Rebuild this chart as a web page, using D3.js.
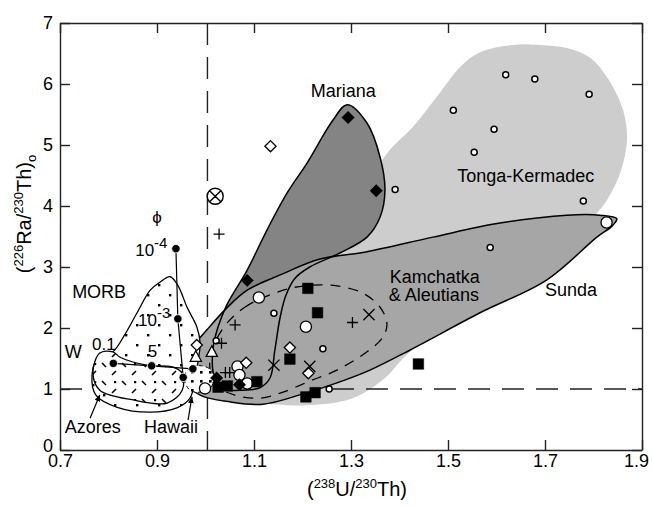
<!DOCTYPE html>
<html>
<head>
<meta charset="utf-8">
<script src="https://cdn.jsdelivr.net/npm/d3@7"></script>
<style>
body { margin: 0; background: #fff; }
svg text { font-family: "Liberation Sans", Arial, Helvetica, sans-serif; fill: #000; }
.axis path, .axis line { stroke: #222; stroke-width: 1.4; }
.axis text { font-size: 18px; }
</style>
</head>
<body>
<div id="chart"></div>
<script>
var xTickValues = [0.7, 0.9, 1.1, 1.3, 1.5, 1.7, 1.9];
var yTickValues = [0, 1, 2, 3, 4, 5, 6, 7];
var equilineU = 1.004;
var equilineRa = 1;

// region outlines, [(238U/230Th), (226Ra/230Th)]
var tongaOutline = [[1.154,0.74],[1.226,0.74],[1.277,0.79],[1.323,0.92],[1.370,1.18],[1.422,1.61],
  [1.607,2.62],[1.772,3.52],[1.809,3.90],[1.828,4.10],[1.855,4.54],[1.869,5.08],[1.861,5.57],
  [1.828,6.11],[1.793,6.43],[1.745,6.59],[1.690,6.64],[1.634,6.64],[1.566,6.52],[1.525,6.28],
  [1.477,5.79],[1.428,5.30],[1.380,4.92],[1.319,4.26],[1.195,3.28],[1.112,2.46],[1.061,1.48],[1.081,0.87]];
var marianaOutline = [[1.292,5.66],[1.333,5.36],[1.360,4.80],[1.370,4.26],[1.360,3.82],[1.333,3.49],
  [1.277,3.23],[1.215,3.00],[1.185,2.82],[1.166,2.54],[1.154,2.18],[1.143,1.64],[1.133,1.18],
  [1.112,1.02],[1.071,0.98],[1.034,1.00],[1.018,1.20],[1.015,1.64],[1.026,2.02],[1.044,2.38],
  [1.086,2.95],[1.127,3.61],[1.168,4.21],[1.209,4.70],[1.263,5.41]];
var kamchatkaOutline = [[1.848,3.79],[1.813,3.85],[1.745,3.85],[1.607,3.72],[1.469,3.49],[1.333,3.25],
  [1.236,3.13],[1.154,2.87],[1.086,2.62],[1.044,2.33],[1.003,1.97],[0.974,1.69],[0.958,1.39],
  [0.960,1.11],[0.989,0.90],[1.050,0.79],[1.119,0.75],[1.201,0.92],[1.271,1.10],[1.339,1.31],
  [1.422,1.64],[1.566,2.25],[1.704,2.79],[1.807,3.49],[1.838,3.67]];
var aleutiansDashed = [[1.034,1.97],[1.081,2.34],[1.160,2.62],[1.215,2.70],[1.271,2.69],[1.325,2.57],
  [1.360,2.34],[1.374,2.08],[1.366,1.85],[1.333,1.61],[1.271,1.31],[1.215,1.13],[1.160,0.95],
  [1.112,0.85],[1.061,0.90],[1.020,1.07],[1.009,1.48]];
var morbOutline = [[0.927,2.84],[0.906,2.75],[0.886,2.62],[0.859,2.25],[0.832,1.87],[0.809,1.61],
  [0.778,1.51],[0.766,1.23],[0.774,0.90],[0.818,0.70],[0.886,0.62],[0.941,0.69],[0.968,0.85],
  [0.978,1.15],[0.985,1.48],[0.989,1.75],[0.982,2.02],[0.962,2.34],[0.943,2.70]];
var azoresOutline = [[0.809,1.61],[0.782,1.59],[0.768,1.26],[0.782,0.98],[0.851,0.82],[0.921,0.77],
  [0.952,0.98],[0.952,1.26],[0.933,1.36],[0.879,1.39],[0.824,1.52]];
var hawaiiOutline = [[0.958,1.25],[0.972,1.36],[0.992,1.38],[1.010,1.32],[1.018,1.18],[1.010,1.02],
  [0.990,0.95],[0.970,0.97],[0.958,1.10]];

// melting model curves
var curveW = [[0.810,1.42],[0.889,1.38],[0.974,1.33]];
var curvePhi = [[0.939,3.30],[0.943,2.15],[0.954,1.19]];

// samples
var smallCircles = [[1.619,6.15],[1.679,6.08],[1.791,5.83],[1.511,5.57],[1.595,5.26],[1.554,4.88],
  [1.391,4.27],[1.779,4.08],[1.587,3.32],[1.141,2.24],[1.242,1.66],[1.255,1.00],[1.022,1.79]];
var bigCircles = [[1.827,3.73],[1.110,2.50],[1.207,2.02],[1.066,1.37],[1.070,1.23],[1.086,1.09],[0.999,1.01]];
var openDiamonds = [[1.134,4.98],[0.982,1.72],[1.084,1.43],[1.174,1.68],[1.212,1.26]];
var filledDiamonds = [[1.294,5.45],[1.352,4.25],[1.086,2.78],[1.023,1.18],[1.070,1.07]];
var filledSquares = [[1.211,2.65],[1.231,2.25],[1.174,1.49],[1.207,0.87],[1.226,0.94],[1.439,1.41],
  [1.106,1.12],[1.026,1.03],[1.045,1.05]];
var crosses = [[1.337,2.22],[1.215,1.37],[1.141,1.39]];
var pluses = [[1.028,3.54],[1.303,2.09],[1.061,2.05],[1.033,1.75],[1.041,1.27],[1.050,1.27]];
var circledX = [[1.020,4.16]];
var openTriangles = [[0.980,1.52],[1.013,1.60]];

var labels = [
  {t:"Mariana", x:1.284, y:5.79, a:"middle"},
  {t:"Tonga-Kermadec", x:1.519, y:4.39, a:"start"},
  {t:"Kamchatka", x:1.380, y:2.74, a:"start"},
  {t:"& Aleutians", x:1.378, y:2.44, a:"start"},
  {t:"Sunda", x:1.700, y:2.52, a:"start"},
  {t:"MORB", x:0.725, y:2.49, a:"start"},
  {t:"W", x:0.710, y:1.51, a:"start"},
  {t:"0.1", x:0.766, y:1.64, a:"start", s:17},
  {t:"5", x:0.881, y:1.52, a:"start", s:17},
  {t:"Azores", x:0.710, y:0.28, a:"start"},
  {t:"Hawaii", x:0.873, y:0.28, a:"start"},
  {t:"\u03d5", x:0.900, y:3.72, a:"middle", s:17}
];
var powerLabels = [{base:"10", exp:"-4", x:0.855, y:3.18}, {base:"10", exp:"-3", x:0.861, y:2.03}];
var arrows = [[[0.762,0.52],[0.782,0.90]], [[0.964,0.49],[0.972,0.87]]];

var width = 653, height = 506;
var x = d3.scaleLinear().domain([0.7, 1.9]).range([60, 642]);
var y = d3.scaleLinear().domain([0, 7]).range([450, 23]);

var svg = d3.select("#chart").append("svg")
  .attr("width", width)
  .attr("height", height);

var defs = svg.append("defs");
var pm = defs.append("pattern").attr("id", "morbDots").attr("patternUnits", "userSpaceOnUse")
  .attr("width", 22).attr("height", 20);
pm.append("rect").attr("width", 22).attr("height", 20).attr("fill", "#fff");
pm.append("rect").attr("x", 4).attr("y", 4).attr("width", 2.4).attr("height", 2.4).attr("fill", "#000");
pm.append("rect").attr("x", 15).attr("y", 14).attr("width", 2.4).attr("height", 2.4).attr("fill", "#000");

var pa = defs.append("pattern").attr("id", "azoresDash").attr("patternUnits", "userSpaceOnUse")
  .attr("width", 20).attr("height", 18);
pa.append("rect").attr("width", 20).attr("height", 18).attr("fill", "#fff");
pa.append("path").attr("d", "M2,3L6,7M12,15L16,11").attr("stroke", "#000").attr("stroke-width", 1.6);
pa.append("rect").attr("x", 14).attr("y", 3).attr("width", 2.2).attr("height", 2.2).attr("fill", "#000");

var ph = defs.append("pattern").attr("id", "hawaiiDots").attr("patternUnits", "userSpaceOnUse")
  .attr("width", 9).attr("height", 9);
ph.append("rect").attr("width", 9).attr("height", 9).attr("fill", "#fff");
ph.append("rect").attr("x", 2).attr("y", 2).attr("width", 2.6).attr("height", 2.6).attr("fill", "#000");

defs.append("marker").attr("id", "arrowHead").attr("viewBox", "0 0 10 10")
  .attr("refX", 9).attr("refY", 5).attr("markerWidth", 7).attr("markerHeight", 7)
  .attr("markerUnits", "userSpaceOnUse").attr("orient", "auto")
  .append("path").attr("d", "M0,1L10,5L0,9Z").attr("fill", "#000");

var closedLine = d3.line().x(function (d) { return x(d[0]); }).y(function (d) { return y(d[1]); })
  .curve(d3.curveCatmullRomClosed.alpha(0.5));
var openLine = d3.line().x(function (d) { return x(d[0]); }).y(function (d) { return y(d[1]); });

// light gray Tonga field
svg.append("path").attr("d", closedLine(tongaOutline)).attr("fill", "#cdcdcd");

// equilines
svg.append("line").attr("x1", x(equilineU)).attr("x2", x(equilineU)).attr("y1", y(7)).attr("y2", y(0))
  .attr("stroke", "#222").attr("stroke-width", 1.4).attr("stroke-dasharray", "22,12");
svg.append("line").attr("x1", x(0.7)).attr("x2", x(1.9)).attr("y1", y(equilineRa)).attr("y2", y(equilineRa))
  .attr("stroke", "#222").attr("stroke-width", 1.4).attr("stroke-dasharray", "22,12");

svg.append("path").attr("d", closedLine(marianaOutline)).attr("fill", "#848484");
svg.append("path").attr("d", closedLine(kamchatkaOutline)).attr("fill", "#a6a6a6")
  .attr("stroke", "#000").attr("stroke-width", 1.5);
svg.append("path").attr("d", closedLine(marianaOutline)).attr("fill", "none")
  .attr("stroke", "#000").attr("stroke-width", 1.5);
svg.append("path").attr("d", closedLine(aleutiansDashed)).attr("fill", "none")
  .attr("stroke", "#000").attr("stroke-width", 1.3).attr("stroke-dasharray", "10,8");

svg.append("path").attr("d", closedLine(morbOutline)).attr("fill", "url(#morbDots)")
  .attr("stroke", "#000").attr("stroke-width", 1.3);
svg.append("path").attr("d", closedLine(azoresOutline)).attr("fill", "url(#azoresDash)")
  .attr("stroke", "#000").attr("stroke-width", 1.3);
svg.append("path").attr("d", closedLine(hawaiiOutline)).attr("fill", "url(#hawaiiDots)")
  .attr("stroke", "#000").attr("stroke-width", 1).attr("stroke-dasharray", "4,3");

// melting curves
[curveW, curvePhi].forEach(function (c) {
  svg.append("path").attr("d", openLine(c)).attr("fill", "none").attr("stroke", "#000").attr("stroke-width", 1.2);
  svg.selectAll(null).data(c).enter().append("circle")
    .attr("cx", function (d) { return x(d[0]); })
    .attr("cy", function (d) { return y(d[1]); })
    .attr("r", 4.2).attr("fill", "#000").attr("stroke", "#fff").attr("stroke-width", 0.8);
});

// markers
function place(sel) {
  return sel.attr("transform", function (d) { return "translate(" + x(d[0]) + "," + y(d[1]) + ")"; });
}
function markers(data, d, fill, sw) {
  place(svg.append("g").selectAll("path").data(data).enter().append("path"))
    .attr("d", d).attr("fill", fill).attr("stroke", "#000").attr("stroke-width", sw);
}
markers(smallCircles, "M3,0A3,3 0 1,1 -3,0A3,3 0 1,1 3,0Z", "#fff", 1.5);
markers(bigCircles, "M5.6,0A5.6,5.6 0 1,1 -5.6,0A5.6,5.6 0 1,1 5.6,0Z", "#fff", 1.3);
markers(openDiamonds, "M0,-5.6L5.6,0L0,5.6L-5.6,0Z", "#fff", 1.3);
markers(filledDiamonds, "M0,-6.2L6.2,0L0,6.2L-6.2,0Z", "#000", 0.5);
markers(filledSquares, "M-5.3,-5.3H5.3V5.3H-5.3Z", "#000", 0.5);
markers(crosses, "M-5.6,-5.6L5.6,5.6M-5.6,5.6L5.6,-5.6", "none", 1.3);
markers(pluses, "M-5.5,0H5.5M0,-5.5V5.5", "none", 1.3);
markers(circledX, "M8,0A8,8 0 1,1 -8,0A8,8 0 1,1 8,0ZM-5.6,-5.6L5.6,5.6M-5.6,5.6L5.6,-5.6", "#fff", 1.4);
markers(openTriangles, "M0,-6.5L5.6,4L-5.6,4Z", "#fff", 1.3);

// annotation text
labels.forEach(function (l) {
  svg.append("text").attr("x", x(l.x)).attr("y", y(l.y)).attr("text-anchor", l.a)
    .style("font-size", (l.s || 18) + "px").text(l.t);
});
powerLabels.forEach(function (l) {
  var t = svg.append("text").attr("x", x(l.x)).attr("y", y(l.y)).style("font-size", "17px");
  t.append("tspan").text(l.base);
  t.append("tspan").attr("dy", -8).style("font-size", "15px").text(l.exp);
});
arrows.forEach(function (a) {
  svg.append("path").attr("d", openLine(a)).attr("stroke", "#000").attr("stroke-width", 1.2)
    .attr("fill", "none").attr("marker-end", "url(#arrowHead)");
});

// axes
var fmt = d3.format(".1f");
var xAxis = svg.append("g").attr("class", "axis").attr("transform", "translate(0," + y(0) + ")")
  .call(d3.axisBottom(x).tickValues(xTickValues).tickFormat(fmt).tickSizeInner(-10).tickSizeOuter(0).tickPadding(4));
xAxis.selectAll(".tick text").filter(function (d) { return d === 1.9; }).attr("dx", -6);
svg.append("g").attr("class", "axis").attr("transform", "translate(0," + y(7) + ")")
  .call(d3.axisTop(x).tickValues(xTickValues).tickFormat("").tickSizeInner(-10).tickSizeOuter(0));
var yAxis = svg.append("g").attr("class", "axis").attr("transform", "translate(" + x(0.7) + ",0)")
  .call(d3.axisLeft(y).tickValues(yTickValues).tickFormat(d3.format("d")).tickSizeInner(-10).tickSizeOuter(0).tickPadding(7));
yAxis.selectAll(".tick text").filter(function (d) { return d === 0; }).attr("y", -4);
svg.append("g").attr("class", "axis").attr("transform", "translate(" + x(1.9) + ",0)")
  .call(d3.axisRight(y).tickValues(yTickValues).tickFormat("").tickSizeInner(-10).tickSizeOuter(0));

function rich(t, parts) {
  var shift = 0;
  parts.forEach(function (p) {
    var target = p[1] === "sup" ? -8 : p[1] === "sub" ? 5 : 0;
    var ts = t.append("tspan").attr("dy", target - shift).text(p[0]);
    if (p[1]) ts.style("font-size", "13px");
    shift = target;
  });
}
var xTitle = svg.append("text").attr("x", 357).attr("y", 496).attr("text-anchor", "middle").style("font-size", "20px");
rich(xTitle, [["("], ["238", "sup"], ["U/"], ["230", "sup"], ["Th)"]]);
var yTitle = svg.append("text").attr("transform", "translate(31,214) rotate(-90)")
  .attr("text-anchor", "middle").style("font-size", "20px");
rich(yTitle, [["("], ["226", "sup"], ["Ra/"], ["230", "sup"], ["Th)"], ["o", "sub"]]);
</script>
</body>
</html>
